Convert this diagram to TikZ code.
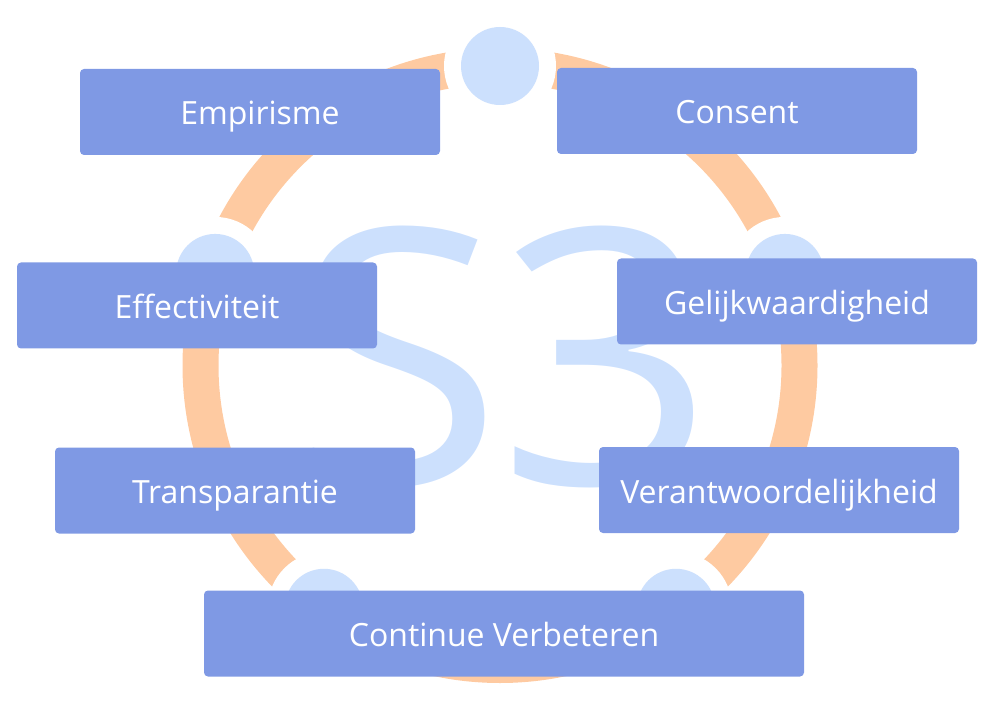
\documentclass[tikz,border=0pt]{standalone}
\usepackage{fontspec}
\setmainfont{Open Sans}
\definecolor{ringoranje}{RGB}{254,202,161}
\definecolor{lichtblauw}{RGB}{204,224,253}
\definecolor{waardeblauw}{RGB}{127,153,228}
\begin{document}
\begin{tikzpicture}[x=1pt, y=1pt]
\tikzset{waarde/.style={fill=waardeblauw, rounded corners=4pt, minimum width=360pt, minimum height=86pt, inner sep=0pt, text=white, font=\fontsize{32}{38}\selectfont, text height=26pt, text depth=0pt}}
\tikzset{halo/.style={circle, fill=white, minimum size=112pt, inner sep=0pt}}
\tikzset{bol/.style={circle, fill=lichtblauw, minimum size=78pt, inner sep=0pt}}
\useasboundingbox (0,0) rectangle (1000,710);
% ring met vijf bollen
\begin{scope}[shift={(500,344.5)}]
\draw[ringoranje, line width=36pt] (0,0) circle (299.5);
\node[halo] (H1) at (90:299.5) {};
\node[halo] (H2) at (162:299.5) {};
\node[halo] (H3) at (234:299.5) {};
\node[halo] (H4) at (306:299.5) {};
\node[halo] (H5) at (18:299.5) {};
\node[bol] (B1) at (90:299.5) {};
\node[bol] (B2) at (162:299.5) {};
\node[bol] (B3) at (234:299.5) {};
\node[bol] (B4) at (306:299.5) {};
\node[bol] (B5) at (18:299.5) {};
\end{scope}
\node[text=lichtblauw, font=\fontsize{357}{357}\selectfont, inner sep=0pt, anchor=base, xscale=1.07, transform shape] (sdrie) at (504.5,225.5) {S\kern-6pt3};
% waarden
\node[waarde] (emp) at (260,598) {Empirisme};
\node[waarde] (cons) at (737,599) {Consent};
\node[waarde] (eff) at (197,404.5) {Effectiviteit};
\node[waarde] (gelijk) at (797,408.5) {Gelijkwaardigheid};
\node[waarde] (transp) at (235,219.5) {Transparantie};
\node[waarde] (verant) at (779,220) {Verantwoordelijkheid};
\node[waarde, minimum width=600pt] (contverb) at (504,76.5) {Continue Verbeteren};
\end{tikzpicture}
\end{document}
